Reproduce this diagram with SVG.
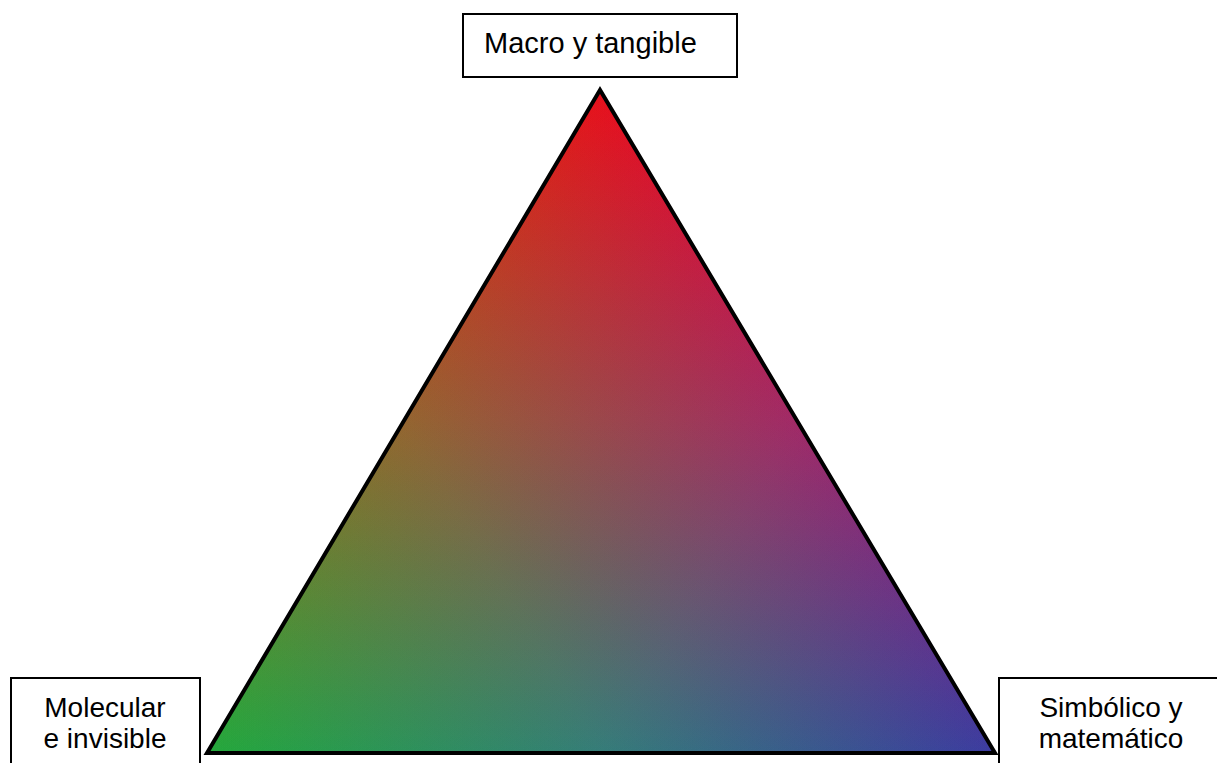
<svg xmlns="http://www.w3.org/2000/svg" width="1217" height="763" viewBox="0 0 1217 763">
<style>
.box{fill:#fff;stroke:#000;stroke-width:2}
.lbl{font-family:"Liberation Sans",Arial,sans-serif;font-size:28px;fill:#000}
.add{mix-blend-mode:plus-lighter}
</style>
<defs>
<linearGradient id="gR" gradientUnits="userSpaceOnUse" x1="600" y1="90" x2="600" y2="753">
<stop offset="0" stop-color="#e8101c"/>
<stop offset="0.5" stop-color="#80090f"/>
<stop offset="1" stop-color="#000"/>
</linearGradient>
<linearGradient id="gG" gradientUnits="userSpaceOnUse" x1="207" y1="753" x2="788.6" y2="406.5">
<stop offset="0" stop-color="#24a83c"/>
<stop offset="0.5" stop-color="#145c21"/>
<stop offset="1" stop-color="#000"/>
</linearGradient>
<linearGradient id="gB" gradientUnits="userSpaceOnUse" x1="995" y1="753" x2="411.9" y2="407.4">
<stop offset="0" stop-color="#3c3ca0"/>
<stop offset="0.5" stop-color="#212158"/>
<stop offset="1" stop-color="#000"/>
</linearGradient>
<polygon id="tri" points="600,90 207,753 995,753"/>
</defs>
<rect width="1217" height="763" fill="#fff"/>
<g id="triangle">
<g style="isolation:isolate">
<use href="#tri" fill="#000"/>
<use href="#tri" fill="url(#gR)" class="add"/>
<use href="#tri" fill="url(#gG)" class="add"/>
<use href="#tri" fill="url(#gB)" class="add"/>
</g>
<use href="#tri" fill="none" stroke="#000" stroke-width="4" stroke-linejoin="miter"/>
</g>
<g id="node-macro">
<rect class="box" x="463" y="14" width="274" height="63"/>
<text class="lbl" x="484" y="53" style="font-size:29px">Macro y tangible</text>
</g>
<g id="node-molecular">
<rect class="box" x="11" y="678" width="189" height="100"/>
<text class="lbl" x="105" y="717" text-anchor="middle">Molecular</text>
<text class="lbl" x="105" y="748" text-anchor="middle">e invisible</text>
</g>
<g id="node-simbolico">
<rect class="box" x="999" y="678" width="240" height="100"/>
<text class="lbl" x="1111" y="717" text-anchor="middle">Simbólico y</text>
<text class="lbl" x="1111" y="748" text-anchor="middle">matemático</text>
</g>
<g id="connectors"></g>
</svg>
